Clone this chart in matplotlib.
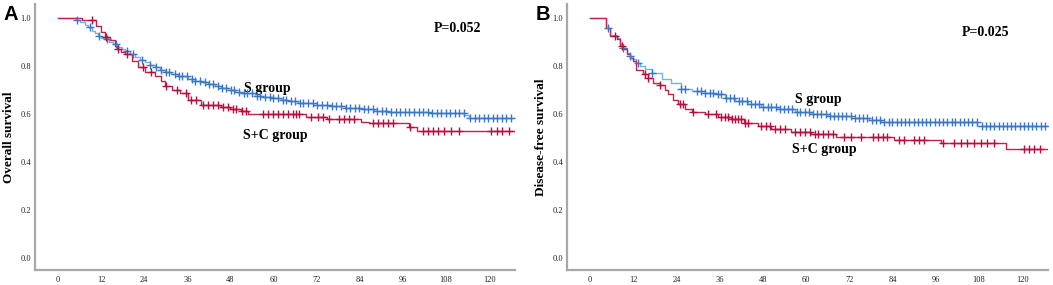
import numpy as np
import matplotlib
matplotlib.use("Agg")
import matplotlib.pyplot as plt

# ---------------- data ----------------
x_ticks = [0, 12, 24, 36, 48, 60, 72, 84, 96, 108, 120]
y_ticks = [0.0, 0.2, 0.4, 0.6, 0.8, 1.0]
follow_end = 127

# Panel A: overall survival
a_s_time = [0, 5.0, 6.1, 7.5, 8.4, 9.4, 10.3, 11.2, 12.1, 13.0, 14.2, 15.4, 16.8, 17.7, 18.6,
            20.0, 21.4, 22.8, 24.2, 25.5, 26.9, 28.3, 29.7, 31.5, 33.4, 36.2, 38.0, 39.9, 41.8,
            43.6, 45.4, 47.3, 49.2, 51.0, 54.7, 57.0, 59.4, 62.0, 64.0, 66.8, 71.0, 76.0, 80.0,
            84.4, 88.0, 91.8, 103.0, 113.0, 114.4]
a_s_surv = [1.0, 0.99, 0.982, 0.97, 0.961, 0.947, 0.937, 0.926, 0.918, 0.912, 0.90, 0.892, 0.878,
            0.871, 0.864, 0.85, 0.836, 0.825, 0.815, 0.805, 0.795, 0.785, 0.774, 0.767, 0.760,
            0.746, 0.739, 0.732, 0.725, 0.718, 0.709, 0.70, 0.693, 0.686, 0.676, 0.671, 0.667,
            0.660, 0.653, 0.644, 0.638, 0.633, 0.626, 0.619, 0.613, 0.607, 0.602, 0.594, 0.585]
a_s_cens = [5.2, 8.9, 11.5, 13.6, 16.1, 19.2, 21.0, 23.4, 25.6, 27.4, 28.8, 30.1, 31.0, 32.5,
            33.7, 34.6, 36.0, 37.3, 38.2, 39.5, 40.9, 41.9, 43.1, 44.5, 45.6, 46.7, 48.1, 49.0,
            50.3, 51.7, 52.6, 53.9, 55.3, 56.2, 57.5, 58.9, 59.9, 61.1, 62.5, 63.4, 64.8, 66.0,
            67.4, 68.3, 69.7, 70.9, 72.0, 73.6, 74.8, 76.3, 77.4, 78.7, 80.1, 81.3, 82.6, 83.8,
            85.2, 86.4, 87.7, 88.9, 90.3, 91.4, 92.8, 94.0, 95.3, 96.5, 97.8, 99.0, 100.4, 101.6,
            102.9, 104.1, 105.4, 106.6, 107.9, 109.2, 110.4, 111.7, 112.9, 114.8, 116.0, 117.3,
            118.5, 119.8, 121.0, 122.3, 123.5, 124.8, 126.0]
a_c_time = [0, 6.8, 10.7, 12.1, 13.0, 14.4, 15.8, 16.3, 17.5, 18.6, 20.5, 22.3, 24.2, 26.9,
            28.8, 29.7, 31.6, 33.9, 36.2, 39.9, 45.5, 47.8, 51.0, 52.8, 69.0, 75.0, 84.4, 86.7,
            97.8, 100.0]
a_c_surv = [1.0, 0.99, 0.968, 0.94, 0.92, 0.908, 0.885, 0.871, 0.86, 0.85, 0.822, 0.795, 0.774,
            0.76, 0.739, 0.718, 0.70, 0.686, 0.658, 0.639, 0.63, 0.621, 0.611, 0.60, 0.586,
            0.578, 0.568, 0.561, 0.547, 0.53]
a_c_cens = [9.4, 13.4, 16.6, 19.1, 23.7, 26.0, 30.0, 33.0, 35.7, 37.1, 38.5, 40.4, 41.8, 43.1,
            44.5, 45.9, 47.3, 48.7, 49.6, 51.3, 52.4, 57.0, 58.4, 59.8, 61.2, 62.6, 63.9, 65.4,
            66.3, 67.2, 70.5, 72.3, 73.7, 75.5, 78.3, 79.7, 81.1, 82.5, 87.6, 89.0, 90.4, 91.8,
            93.2, 98.0, 101.5, 102.9, 104.3, 105.7, 107.5, 109.4, 111.7, 120.5, 122.3, 123.7,
            125.6]

# Panel B: disease-free survival
b_s_time = [0, 4.3, 5.5, 7.4, 8.3, 9.2, 10.2, 11.1, 12.0, 12.9, 13.9, 15.2, 17.1, 19.9, 22.6,
            25.4, 28.2, 31.9, 34.6, 37.4, 40.2, 43.9, 47.6, 52.2, 56.8, 61.4, 66.0, 72.5, 77.6,
            80.8, 107.6]
b_s_surv = [1.0, 0.958, 0.93, 0.915, 0.89, 0.875, 0.855, 0.84, 0.827, 0.813, 0.80, 0.786, 0.769,
            0.747, 0.727, 0.705, 0.694, 0.689, 0.682, 0.668, 0.654, 0.64, 0.629, 0.62, 0.609,
            0.599, 0.593, 0.585, 0.575, 0.566, 0.550]
b_s_cens = [5.1, 9.2, 11.1, 13.4, 17.1, 25.4, 26.3, 29.6, 30.9, 32.0, 33.2, 34.1, 35.5, 36.4,
            37.8, 38.9, 40.0, 41.3, 42.2, 43.5, 44.6, 45.9, 47.0, 48.1, 49.4, 50.3, 51.6, 52.7,
            53.9, 55.0, 56.1, 57.4, 58.3, 59.6, 60.7, 62.0, 63.1, 64.2, 65.5, 66.6, 67.7, 69.0,
            70.1, 71.2, 72.4, 73.6, 74.7, 75.9, 77.0, 78.2, 79.3, 80.5, 81.7, 82.9, 84.0, 85.2,
            86.4, 87.5, 88.7, 89.9, 91.0, 92.2, 93.4, 94.5, 95.7, 96.9, 98.0, 99.2, 100.4, 101.5,
            102.7, 103.9, 105.0, 106.2, 107.4, 108.8, 110.0, 111.1, 112.3, 113.5, 114.6, 115.8,
            117.0, 118.1, 119.3, 120.5, 121.6, 122.8, 124.0, 125.2, 126.3]
b_c_time = [0, 4.3, 5.5, 7.4, 8.3, 9.2, 10.2, 11.1, 12.0, 12.9, 14.8, 16.1, 17.5, 19.4, 20.8,
            21.7, 23.1, 24.5, 26.3, 28.2, 31.9, 35.5, 39.2, 42.9, 46.6, 50.3, 55.9, 61.4, 68.3,
            84.5, 97.4, 115.4]
b_c_surv = [1.0, 0.96, 0.924, 0.912, 0.882, 0.871, 0.848, 0.834, 0.82, 0.783, 0.765, 0.751,
            0.73, 0.719, 0.70, 0.682, 0.658, 0.64, 0.62, 0.609, 0.599, 0.589, 0.578, 0.564,
            0.551, 0.537, 0.526, 0.516, 0.503, 0.493, 0.479, 0.455]
b_c_cens = [6.9, 8.8, 15.2, 16.2, 19.4, 24.9, 25.9, 28.5, 32.8, 35.1, 36.5, 37.4, 38.4, 39.3,
            40.2, 41.1, 42.0, 43.0, 43.9, 47.6, 49.0, 49.9, 51.3, 52.7, 54.1, 56.8, 58.2, 59.6,
            61.0, 62.4, 63.3, 64.6, 66.0, 67.4, 70.6, 72.5, 75.3, 78.5, 79.9, 81.3, 82.6, 85.9,
            87.3, 90.0, 91.4, 92.8, 97.9, 101.1, 103.0, 104.8, 106.6, 108.5, 110.3, 112.2,
            120.5, 121.9, 123.3, 125.1]

panels = [
    dict(letter="A", ylabel="Overall survival", pval="P=0.052",
         s=(a_s_time, a_s_surv, a_s_cens), c=(a_c_time, a_c_surv, a_c_cens),
         s_lab=(51.9, 0.708), c_lab=(51.4, 0.51), p_pos=(104.7, 0.954)),
    dict(letter="B", ylabel="Disease-free survival", pval="P=0.025",
         s=(b_s_time, b_s_surv, b_s_cens), c=(b_c_time, b_c_surv, b_c_cens),
         s_lab=(56.8, 0.66), c_lab=(56.0, 0.45), p_pos=(103.3, 0.938)),
]

# ---------------- style ----------------
blue_line = "#7eaee0"
blue_mark = "#3a77c6"
red_line = "#c2224f"
red_mark = "#b3103f"
spine_col = "#a8a8a8"
serif = ["Liberation Serif", "DejaVu Serif"]

fig = plt.figure(figsize=(10.53, 2.85), dpi=100)
W, H = 1053, 285
axes_px = [(35, 515), (567, 1048)]
top_px, bot_px = 4, 270


def surv_at(times, surv, t):
    idx = np.searchsorted(np.asarray(times), np.asarray(t), side="right") - 1
    return np.asarray(surv)[idx]


for (x0, x1), p in zip(axes_px, panels):
    ax = fig.add_axes([x0 / W, 1 - bot_px / H, (x1 - x0) / W, (bot_px - top_px) / H])
    for key, lc, mc in (("s", blue_line, blue_mark), ("c", red_line, red_mark)):
        times, surv, cens = p[key]
        tt = list(times) + [follow_end]
        ss = list(surv) + [surv[-1]]
        ax.step(tt, ss, where="post", color=lc, lw=1.0, zorder=3)
        ax.plot(cens, surv_at(times, surv, cens), ls="none", marker="+",
                ms=5.5, mew=1.0, color=mc, zorder=4)
    ax.set_xlim(-6.4, 127.2)
    ax.set_ylim(-0.05, 1.058)
    ax.set_xticks(x_ticks)
    ax.set_yticks(y_ticks)
    ax.set_xticklabels([str(v) for v in x_ticks], fontfamily=serif, fontsize=6)
    ax.set_yticklabels([f"{v:.1f}" for v in y_ticks], fontfamily=serif, fontsize=6)
    ax.tick_params(axis="x", length=0, pad=4, colors="#222222")
    ax.tick_params(axis="y", length=0, pad=3, colors="#222222")
    for sp in ("top", "right"):
        ax.spines[sp].set_visible(False)
    for sp in ("left", "bottom"):
        ax.spines[sp].set_color(spine_col)
        ax.spines[sp].set_linewidth(1.6)
    ax.set_ylabel(p["ylabel"], fontfamily=serif, fontweight="bold", fontsize=9.5)
    ax.yaxis.set_label_coords(-0.041, 0.5)
    ax.text(*p["s_lab"], "S group", fontfamily=serif, fontweight="bold", fontsize=10,
            va="center", ha="left")
    ax.text(*p["c_lab"], "S+C group", fontfamily=serif, fontweight="bold", fontsize=10,
            va="center", ha="left")
    ax.text(*p["p_pos"], p["pval"], fontfamily=serif, fontweight="bold", fontsize=10,
            va="center", ha="left")
    fig.text((x0 - 31) / W, 1 - 14 / H, p["letter"], fontfamily="Liberation Sans",
             fontweight="bold", fontsize=14.5, va="center", ha="left")

fig.savefig("out.png", dpi=100)
